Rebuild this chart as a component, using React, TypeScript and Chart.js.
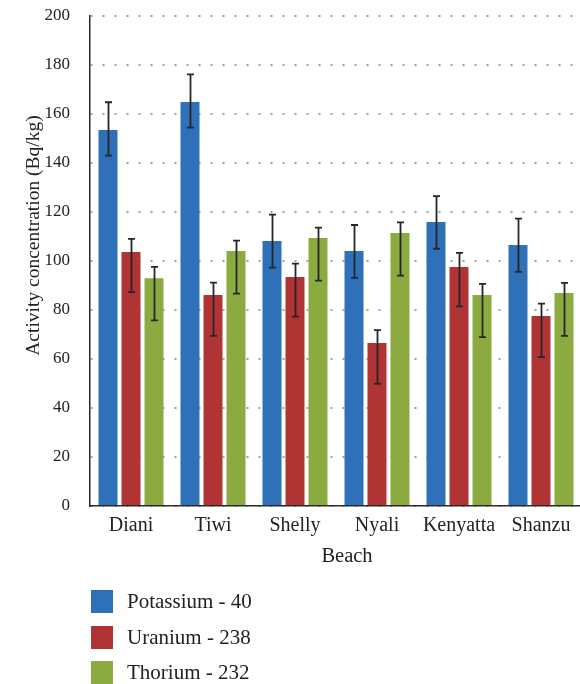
import React, { useEffect, useRef } from "react";
import { Chart, registerables } from "chart.js";

Chart.register(...registerables);

const beaches = ["Diani", "Tiwi", "Shelly", "Nyali", "Kenyatta", "Shanzu"];
const seriesNames = ["Potassium - 40", "Uranium - 238", "Thorium - 232"];
const seriesColors = ["#2E71B8", "#B03434", "#8BAA40"];

const potassium = [153.5, 164.9, 108.2, 104.1, 115.9, 106.5];
const potassiumHigh = [164.8, 176.2, 118.9, 114.7, 126.5, 117.3];
const potassiumLow = [143.0, 154.4, 97.3, 93.1, 105.0, 95.6];

const uranium = [103.7, 86.1, 93.5, 66.5, 97.6, 77.6];
const uraniumHigh = [109.0, 91.2, 98.9, 71.8, 103.3, 82.6];
const uraniumLow = [87.3, 69.4, 77.3, 49.9, 81.5, 60.8];

const thorium = [93.0, 104.1, 109.4, 111.4, 86.1, 86.9];
const thoriumHigh = [97.6, 108.3, 113.6, 115.8, 90.7, 91.1];
const thoriumLow = [75.8, 86.7, 92.0, 94.0, 68.9, 69.4];

const yMin = 0;
const yMax = 200;
const yStep = 20;
const yTitle = "Activity concentration (Bq/kg)";
const xTitle = "Beach";

const FONT = '"Liberation Serif", "Times New Roman", serif';

const errorBarPlugin = {
  id: "errorBars",
  afterDatasetsDraw(chart: any) {
    const ctx = chart.ctx;
    const yScale = chart.scales.y;
    chart.data.datasets.forEach((ds: any, i: number) => {
      const meta = chart.getDatasetMeta(i);
      meta.data.forEach((bar: any, j: number) => {
        const x = Math.round(bar.x) + 0.5;
        const top = yScale.getPixelForValue(ds.errHigh[j]);
        const bot = yScale.getPixelForValue(ds.errLow[j]);
        ctx.save();
        ctx.strokeStyle = "#262626";
        ctx.lineWidth = 1.8;
        ctx.beginPath();
        ctx.moveTo(x, top);
        ctx.lineTo(x, bot);
        ctx.moveTo(x - 3.5, top);
        ctx.lineTo(x + 3.5, top);
        ctx.moveTo(x - 3.5, bot);
        ctx.lineTo(x + 3.5, bot);
        ctx.stroke();
        ctx.restore();
      });
    });
  },
};

const axisTitlePlugin = {
  id: "axisTitles",
  afterDraw(chart: any) {
    const ctx = chart.ctx;
    const { left, right, top, bottom } = chart.chartArea;
    ctx.save();
    ctx.fillStyle = "#222";
    ctx.textAlign = "center";
    ctx.textBaseline = "middle";
    ctx.font = `19.5px ${FONT}`;
    ctx.translate(34, (top + bottom) / 2 - 25.5);
    ctx.rotate(-Math.PI / 2);
    ctx.fillText(yTitle, 0, 0);
    ctx.restore();

    ctx.save();
    ctx.fillStyle = "#222";
    ctx.textAlign = "center";
    ctx.textBaseline = "middle";
    ctx.font = `20.5px ${FONT}`;
    ctx.fillText(xTitle, (left + right) / 2 + 11, bottom + 51);
    ctx.restore();
  },
};

export default function App() {
  const canvasRef = useRef<HTMLCanvasElement | null>(null);

  useEffect(() => {
    if (!canvasRef.current) return;
    const values = [potassium, uranium, thorium];
    const highs = [potassiumHigh, uraniumHigh, thoriumHigh];
    const lows = [potassiumLow, uraniumLow, thoriumLow];
    const chart = new Chart(canvasRef.current, {
      type: "bar",
      data: {
        labels: beaches,
        datasets: seriesNames.map((name, i) => ({
          label: name,
          data: values[i],
          errHigh: highs[i],
          errLow: lows[i],
          backgroundColor: seriesColors[i],
          borderWidth: 0,
          categoryPercentage: 0.8415,
          barPercentage: 0.826,
        })) as any,
      },
      options: {
        responsive: false,
        animation: false,
        layout: { padding: { left: 0, right: 2, top: 16, bottom: 0 } },
        plugins: {
          legend: { display: false },
          tooltip: { enabled: false },
        },
        scales: {
          x: {
            grid: { display: false, drawTicks: false },
            border: { display: true, color: "#2a2a2a", width: 1.5 },
            ticks: {
              color: "#222",
              font: { family: FONT, size: 20 },
              padding: 8,
            },
            afterFit(scale: any) {
              scale.height = 178;
              scale.paddingLeft = 0;
              scale.paddingRight = 0;
            },
          },
          y: {
            min: yMin,
            max: yMax,
            ticks: {
              stepSize: yStep,
              color: "#222",
              font: { family: FONT, size: 17 },
              padding: 20,
            },
            grid: {
              color: "#a0a0a0",
              lineWidth: 2,
              drawTicks: false,
            },
            border: { display: true, color: "#2a2a2a", width: 1.5, dash: [2, 10] },
            afterFit(scale: any) {
              scale.width = 90;
              scale.paddingTop = 0;
              scale.paddingBottom = 0;
            },
          },
        },
      },
      plugins: [errorBarPlugin, axisTitlePlugin],
    });
    return () => chart.destroy();
  }, []);

  const legendTop = [590, 625.5, 661];

  return (
    <div
      style={{
        position: "absolute",
        left: 0,
        top: 0,
        width: 580,
        height: 684,
        overflow: "hidden",
        background: "#fff",
      }}
    >
      <canvas
        ref={canvasRef}
        width={584}
        height={684}
        style={{ position: "absolute", left: 0, top: 0, width: 584, height: 684 }}
      />
      {seriesNames.map((name, i) => (
        <div
          key={name}
          style={{
            position: "absolute",
            left: 91,
            top: legendTop[i],
            height: 23,
            display: "flex",
            alignItems: "center",
            fontFamily: FONT,
            fontSize: 21,
            color: "#222",
            whiteSpace: "nowrap",
          }}
        >
          <span
            style={{
              display: "inline-block",
              width: 22,
              height: 23,
              background: seriesColors[i],
              marginRight: 14,
            }}
          />
          <span style={{ lineHeight: "23px" }}>{name}</span>
        </div>
      ))}
    </div>
  );
}
